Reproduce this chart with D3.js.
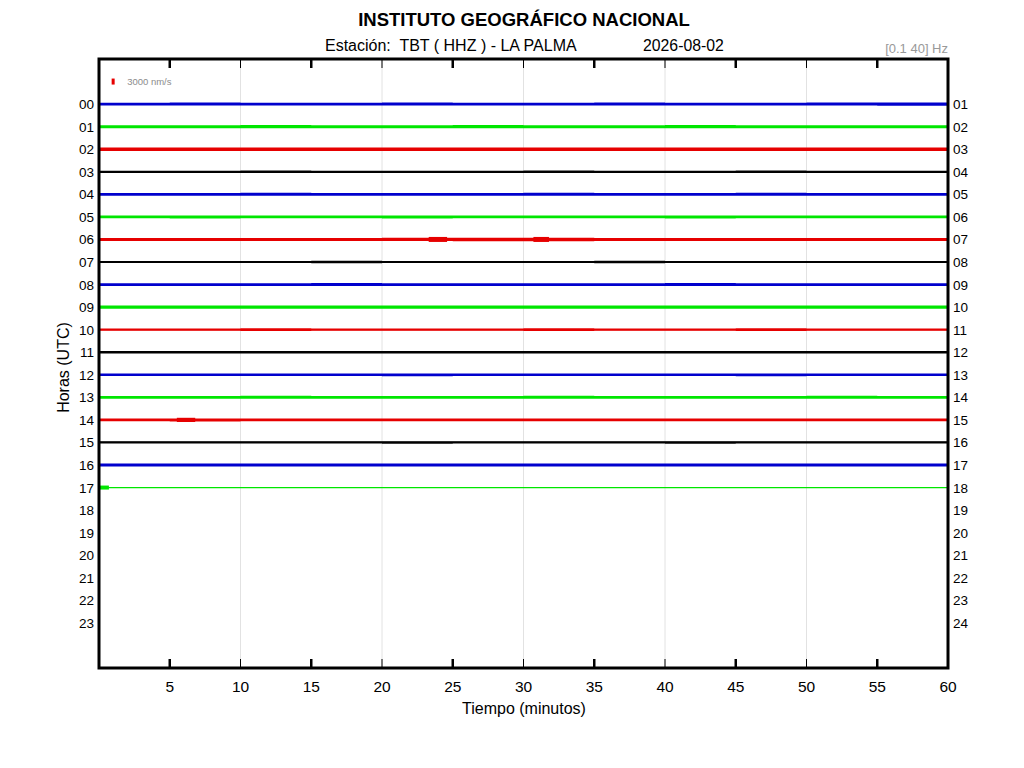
<!DOCTYPE html>
<html>
<head>
<meta charset="utf-8">
<script src="https://cdn.jsdelivr.net/npm/d3@7"></script>
<style>
	body { margin: 0; background: #fff; }
	svg { font-family: "Liberation Sans", Arial, sans-serif; }
</style>
</head>
<body>
<div class="chart"></div>
<script>
// hour rows, left and right labels
let hourLabels = d3.range(24).map(h => d3.format("02")(h));
let rightLabels = d3.range(1, 25).map(h => d3.format("02")(h));
let traceColors = ["#0000cd", "#00e600", "#e60000", "#000000"];
let xTicks = [5, 10, 15, 20, 25, 30, 35, 40, 45, 50, 55, 60];

// half-amplitude envelope of each hourly trace, nm/s, one value per 5 minutes
let hourAmplitude = [
	[700, 750, 700, 700, 750, 700, 700, 750, 700, 700, 750, 800],
	[750, 750, 800, 750, 750, 800, 750, 750, 800, 750, 750, 750],
	[850, 850, 900, 850, 850, 900, 850, 900, 850, 850, 900, 850],
	[550, 550, 600, 550, 550, 550, 600, 550, 550, 600, 550, 550],
	[700, 700, 750, 700, 700, 700, 750, 700, 700, 750, 700, 700],
	[700, 750, 700, 700, 750, 700, 700, 700, 750, 700, 700, 700],
	[750, 750, 750, 750, 800, 850, 850, 750, 750, 750, 750, 750],
	[550, 550, 550, 600, 550, 550, 550, 600, 550, 550, 550, 550],
	[700, 700, 700, 750, 700, 700, 700, 700, 750, 700, 700, 700],
	[800, 800, 850, 800, 800, 800, 850, 800, 800, 800, 850, 800],
	[600, 600, 650, 600, 600, 600, 650, 600, 600, 650, 600, 600],
	[600, 600, 600, 650, 600, 600, 600, 650, 600, 600, 600, 650],
	[650, 650, 650, 650, 700, 650, 650, 650, 650, 700, 650, 650],
	[700, 700, 750, 700, 700, 700, 750, 700, 700, 700, 750, 700],
	[700, 750, 700, 700, 700, 700, 700, 700, 700, 700, 700, 700],
	[550, 550, 550, 550, 600, 550, 550, 550, 600, 550, 550, 550],
	[700, 700, 700, 750, 700, 700, 700, 700, 700, 750, 700, 700],
	[0, 0, 0, 0, 0, 0, 0, 0, 0, 0, 0, 0]
];

// short events standing out of the noise
let burstHour = [6, 6, 14, 17];
let burstStart = [23.3, 30.7, 5.5, 0];
let burstEnd = [24.6, 31.8, 6.8, 0.7];
let burstAmp = [1250, 1250, 1050, 1000];

let scaleBarNm = 3000;
let nmPerRow = 11280;

let width = 1024, height = 768;
let plotLeft = 99, plotRight = 948, plotTop = 59, plotBottom = 668;

let svg = d3.select(".chart")
	.append("svg")
	.attr("width", width)
	.attr("height", height);

let x = d3.scaleLinear().domain([0, 60]).range([plotLeft, plotRight]);
let y = d3.scaleLinear().domain([-2, 25]).range([plotTop, plotBottom]);

let ampPx = function(a) {
	return y(a / nmPerRow) - y(0);
};

// grid lines every 10 minutes
svg.selectAll(".grid")
	.data([10, 20, 30, 40, 50])
	.enter().append("line")
	.attr("class", "grid")
	.attr("x1", d => x(d)).attr("x2", d => x(d))
	.attr("y1", plotTop).attr("y2", plotBottom)
	.attr("stroke", "#e2e2e2")
	.attr("stroke-width", 1);

// traces
let binEdges = d3.range(0, 61, 5);
let area = d3.area()
	.curve(d3.curveStepAfter)
	.x(d => x(d.t))
	.y0(d => d.y + ampPx(d.a))
	.y1(d => d.y - ampPx(d.a));

hourAmplitude.forEach(function(amps, h) {
	let color = traceColors[h % 4];
	let pts = binEdges.map((t, i) => ({ t: t, a: amps[Math.min(i, amps.length - 1)], y: y(h) }));
	svg.append("path")
		.attr("d", area(pts))
		.attr("fill", color);
	svg.append("line")
		.attr("x1", x(0)).attr("x2", x(60))
		.attr("y1", y(h)).attr("y2", y(h))
		.attr("stroke", color)
		.attr("stroke-width", 1.2);
});

burstHour.forEach(function(h, i) {
	let pts = [burstStart[i], burstEnd[i]].map(t => ({ t: t, a: burstAmp[i], y: y(h) }));
	svg.append("path")
		.attr("d", area(pts))
		.attr("fill", traceColors[h % 4]);
});

// scale bar
svg.append("rect")
	.attr("x", x(1) - 1.5)
	.attr("width", 3)
	.attr("y", y(-1) - ampPx(scaleBarNm / 2))
	.attr("height", ampPx(scaleBarNm))
	.attr("fill", "#e60000");
svg.append("text")
	.attr("x", x(1) + 14)
	.attr("y", y(-1) + 3.5)
	.attr("font-size", 9.5)
	.attr("fill", "#8c8c8c")
	.text(scaleBarNm + " nm/s");

// frame and ticks
svg.append("rect")
	.attr("x", plotLeft).attr("y", plotTop)
	.attr("width", plotRight - plotLeft).attr("height", plotBottom - plotTop)
	.attr("fill", "none")
	.attr("stroke", "#000")
	.attr("stroke-width", 3);

[plotTop, plotBottom].forEach(function(edge) {
	let dir = edge === plotTop ? 1 : -1;
	svg.selectAll(null)
		.data(xTicks.slice(0, -1))
		.enter().append("line")
		.attr("x1", d => x(d)).attr("x2", d => x(d))
		.attr("y1", edge).attr("y2", edge + dir * 9)
		.attr("stroke", "#000")
		.attr("stroke-width", d => d % 10 === 0 ? 1 : 2.5);
});

svg.selectAll(".xlab")
	.data(xTicks)
	.enter().append("text")
	.attr("class", "xlab")
	.attr("x", d => x(d))
	.attr("y", plotBottom + 24)
	.attr("text-anchor", "middle")
	.attr("font-size", 15.5)
	.text(d => d);

svg.selectAll(".hl")
	.data(hourLabels)
	.enter().append("text")
	.attr("class", "hl")
	.attr("x", plotLeft - 5)
	.attr("y", (d, i) => y(i) + 5)
	.attr("text-anchor", "end")
	.attr("font-size", 13.5)
	.text(d => d);

svg.selectAll(".hr")
	.data(rightLabels)
	.enter().append("text")
	.attr("class", "hr")
	.attr("x", plotRight + 5)
	.attr("y", (d, i) => y(i) + 5)
	.attr("font-size", 13.5)
	.text(d => d);

// titles
svg.append("text")
	.attr("x", 524).attr("y", 26)
	.attr("text-anchor", "middle")
	.attr("font-size", 18.5)
	.attr("font-weight", "bold")
	.text("INSTITUTO GEOGRÁFICO NACIONAL");
svg.append("text")
	.attr("x", 325).attr("y", 51)
	.attr("font-size", 16)
	.style("white-space", "pre")
	.text("Estación:  TBT ( HHZ ) - LA PALMA");
svg.append("text")
	.attr("x", 643).attr("y", 51)
	.attr("font-size", 15.8)
	.text("2026-08-02");
svg.append("text")
	.attr("x", plotRight).attr("y", 53)
	.attr("text-anchor", "end")
	.attr("font-size", 13)
	.attr("fill", "#999")
	.text("[0.1 40] Hz");
svg.append("text")
	.attr("x", 524).attr("y", 714)
	.attr("text-anchor", "middle")
	.attr("font-size", 16)
	.text("Tiempo (minutos)");
svg.append("text")
	.attr("transform", "translate(69," + ((plotTop + plotBottom) / 2 + 4) + ") rotate(-90)")
	.attr("text-anchor", "middle")
	.attr("font-size", 16)
	.text("Horas (UTC)");
</script>
</body>
</html>
